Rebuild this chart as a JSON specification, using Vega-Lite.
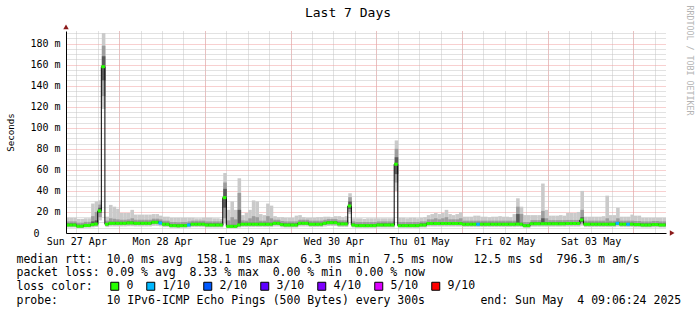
{
"$schema":"https://vega.github.io/schema/vega-lite/v6.json",
"width":600,"height":202,
"autosize":{"type":"none"},
"padding":{"left":66,"top":31,"right":31,"bottom":82},
"background":"white",
"title":{"text":"Last 7 Days","fontSize":13,"fontWeight":"normal","font":"DejaVu Sans Mono","color":"black","anchor":"middle","frame":"group","dx":-18,"dy":27,"offset":12},
"data":{"values":[
{"t":"2025-04-27T09:00Z","m":7.6,"lo":5.2,"hi":14.5,"a":6.2,"b":11,"c":6.9,"d":9,"l":"0"},
{"t":"2025-04-27T10:00Z","m":7.6,"lo":5.2,"hi":14.5,"a":6.2,"b":11,"c":6.9,"d":9,"l":"0"},
{"t":"2025-04-27T11:00Z","m":7.6,"lo":5.2,"hi":14.5,"a":6.2,"b":11,"c":6.9,"d":9,"l":"0"},
{"t":"2025-04-27T12:00Z","m":6.4,"lo":4.6,"hi":13.5,"a":5.2,"b":9.8,"c":5.7,"d":7.8,"l":"0"},
{"t":"2025-04-27T13:00Z","m":6.4,"lo":4.6,"hi":13.5,"a":5.2,"b":9.8,"c":5.7,"d":7.8,"l":"0"},
{"t":"2025-04-27T14:00Z","m":7.2,"lo":5.0,"hi":14,"a":5.8,"b":10.6,"c":6.5,"d":8.6,"l":"0"},
{"t":"2025-04-27T15:00Z","m":7.2,"lo":5.0,"hi":14,"a":5.8,"b":10.6,"c":6.5,"d":8.6,"l":"0"},
{"t":"2025-04-27T16:00Z","m":8.0,"lo":5.4,"hi":28,"a":6.5,"b":16,"c":7.3,"d":11,"l":"0"},
{"t":"2025-04-27T17:00Z","m":8.5,"lo":5.8,"hi":30,"a":7.0,"b":20,"c":7.8,"d":12,"l":"0"},
{"t":"2025-04-27T18:00Z","m":21,"lo":12,"hi":31,"a":15,"b":27,"c":19,"d":24,"l":"0"},
{"t":"2025-04-27T19:00Z","m":158.1,"lo":118,"hi":190,"a":130,"b":178,"c":145,"d":168,"l":"0"},
{"t":"2025-04-27T20:00Z","m":8.3,"lo":5.6,"hi":15.5,"a":6.8,"b":11.7,"c":7.6,"d":9.7,"l":"0"},
{"t":"2025-04-27T21:00Z","m":9.2,"lo":6.2,"hi":26.7,"a":7.6,"b":14,"c":8.4,"d":10.6,"l":"0"},
{"t":"2025-04-27T22:00Z","m":9.2,"lo":6.2,"hi":25,"a":7.6,"b":13.5,"c":8.4,"d":10.6,"l":"0"},
{"t":"2025-04-27T23:00Z","m":9.2,"lo":6.2,"hi":23,"a":7.6,"b":13,"c":8.4,"d":10.6,"l":"0"},
{"t":"2025-04-28T00:00Z","m":9.2,"lo":6.2,"hi":19,"a":7.6,"b":12.6,"c":8.4,"d":10.6,"l":"0"},
{"t":"2025-04-28T01:00Z","m":9.2,"lo":6.2,"hi":19,"a":7.6,"b":12.6,"c":8.4,"d":10.6,"l":"0"},
{"t":"2025-04-28T02:00Z","m":9.5,"lo":6.4,"hi":19,"a":7.9,"b":12.9,"c":8.7,"d":10.9,"l":"0"},
{"t":"2025-04-28T03:00Z","m":9.5,"lo":6.4,"hi":22,"a":7.9,"b":14,"c":8.7,"d":10.9,"l":"0"},
{"t":"2025-04-28T04:00Z","m":9.2,"lo":6.2,"hi":17.5,"a":7.6,"b":12.6,"c":8.4,"d":10.6,"l":"0"},
{"t":"2025-04-28T05:00Z","m":9.2,"lo":6.2,"hi":17.5,"a":7.6,"b":12.6,"c":8.4,"d":10.6,"l":"0"},
{"t":"2025-04-28T06:00Z","m":9.2,"lo":6.2,"hi":17.5,"a":7.6,"b":12.6,"c":8.4,"d":10.6,"l":"0"},
{"t":"2025-04-28T07:00Z","m":9.2,"lo":6.2,"hi":17.5,"a":7.6,"b":12.6,"c":8.4,"d":10.6,"l":"0"},
{"t":"2025-04-28T08:00Z","m":9.2,"lo":6.2,"hi":17.5,"a":7.6,"b":12.6,"c":8.4,"d":10.6,"l":"0"},
{"t":"2025-04-28T09:00Z","m":10.2,"lo":6.8,"hi":18,"a":8.4,"b":13.6,"c":9.4,"d":11.6,"l":"0"},
{"t":"2025-04-28T10:00Z","m":10.2,"lo":6.8,"hi":18,"a":8.4,"b":13.6,"c":9.4,"d":11.6,"l":"0"},
{"t":"2025-04-28T11:00Z","m":9.5,"lo":6.4,"hi":16.5,"a":7.9,"b":12.9,"c":8.7,"d":10.9,"l":"1/10"},
{"t":"2025-04-28T12:00Z","m":8.3,"lo":5.6,"hi":15.5,"a":6.8,"b":11.7,"c":7.6,"d":9.7,"l":"0"},
{"t":"2025-04-28T13:00Z","m":8.3,"lo":5.6,"hi":15.5,"a":6.8,"b":11.7,"c":7.6,"d":9.7,"l":"0"},
{"t":"2025-04-28T14:00Z","m":7.0,"lo":4.9,"hi":14.5,"a":5.7,"b":10.4,"c":6.3,"d":8.4,"l":"0"},
{"t":"2025-04-28T15:00Z","m":7.0,"lo":4.9,"hi":14.5,"a":5.7,"b":10.4,"c":6.3,"d":8.4,"l":"0"},
{"t":"2025-04-28T16:00Z","m":6.8,"lo":4.8,"hi":14.5,"a":5.5,"b":10.2,"c":6.1,"d":8.2,"l":"0"},
{"t":"2025-04-28T17:00Z","m":7.0,"lo":4.9,"hi":14.5,"a":5.7,"b":10.4,"c":6.3,"d":8.4,"l":"0"},
{"t":"2025-04-28T18:00Z","m":7.0,"lo":4.9,"hi":14.5,"a":5.7,"b":10.4,"c":6.3,"d":8.4,"l":"0"},
{"t":"2025-04-28T19:00Z","m":7.6,"lo":5.2,"hi":14.5,"a":6.2,"b":11,"c":6.9,"d":9,"l":"1/10"},
{"t":"2025-04-28T20:00Z","m":8.3,"lo":5.6,"hi":14.5,"a":6.8,"b":11.7,"c":7.6,"d":9.7,"l":"0"},
{"t":"2025-04-28T21:00Z","m":8.3,"lo":5.6,"hi":14,"a":6.8,"b":11.7,"c":7.6,"d":9.7,"l":"0"},
{"t":"2025-04-28T22:00Z","m":8.3,"lo":5.6,"hi":14,"a":6.8,"b":11.7,"c":7.6,"d":9.7,"l":"0"},
{"t":"2025-04-28T23:00Z","m":8.3,"lo":5.6,"hi":14.5,"a":6.8,"b":11.7,"c":7.6,"d":9.7,"l":"0"},
{"t":"2025-04-29T00:00Z","m":7.6,"lo":5.2,"hi":14.5,"a":6.2,"b":11,"c":6.9,"d":9,"l":"0"},
{"t":"2025-04-29T01:00Z","m":7.6,"lo":5.2,"hi":14.5,"a":6.2,"b":11,"c":6.9,"d":9,"l":"0"},
{"t":"2025-04-29T02:00Z","m":7.6,"lo":5.2,"hi":14,"a":6.2,"b":11,"c":6.9,"d":9,"l":"0"},
{"t":"2025-04-29T03:00Z","m":7.6,"lo":5.2,"hi":14,"a":6.2,"b":11,"c":6.9,"d":9,"l":"0"},
{"t":"2025-04-29T04:00Z","m":7.6,"lo":5.2,"hi":13.5,"a":6.2,"b":11,"c":6.9,"d":9,"l":"0"},
{"t":"2025-04-29T05:00Z","m":33.6,"lo":9,"hi":57,"a":14,"b":48,"c":24,"d":42,"l":"0"},
{"t":"2025-04-29T06:00Z","m":6.3,"lo":4.5,"hi":22,"a":5.1,"b":12,"c":5.6,"d":7.7,"l":"0"},
{"t":"2025-04-29T07:00Z","m":6.3,"lo":4.5,"hi":30,"a":5.1,"b":15,"c":5.6,"d":7.7,"l":"0"},
{"t":"2025-04-29T08:00Z","m":6.3,"lo":4.5,"hi":22,"a":5.1,"b":13,"c":5.6,"d":7.7,"l":"0"},
{"t":"2025-04-29T09:00Z","m":7.6,"lo":5.2,"hi":52,"a":6.2,"b":38,"c":6.9,"d":22,"l":"0"},
{"t":"2025-04-29T10:00Z","m":8.3,"lo":5.6,"hi":17,"a":6.8,"b":12,"c":7.6,"d":9.7,"l":"0"},
{"t":"2025-04-29T11:00Z","m":8.3,"lo":5.6,"hi":19,"a":6.8,"b":11.7,"c":7.6,"d":9.7,"l":"0"},
{"t":"2025-04-29T12:00Z","m":8.3,"lo":5.6,"hi":22,"a":6.8,"b":14,"c":7.6,"d":9.7,"l":"0"},
{"t":"2025-04-29T13:00Z","m":8.3,"lo":5.6,"hi":31,"a":6.8,"b":16,"c":7.6,"d":9.7,"l":"0"},
{"t":"2025-04-29T14:00Z","m":8.3,"lo":5.6,"hi":30,"a":6.8,"b":15,"c":7.6,"d":9.7,"l":"0"},
{"t":"2025-04-29T15:00Z","m":8.3,"lo":5.6,"hi":18,"a":6.8,"b":11.7,"c":7.6,"d":9.7,"l":"0"},
{"t":"2025-04-29T16:00Z","m":8.3,"lo":5.6,"hi":17,"a":6.8,"b":11.7,"c":7.6,"d":9.7,"l":"0"},
{"t":"2025-04-29T17:00Z","m":8.3,"lo":5.6,"hi":28,"a":6.8,"b":16,"c":7.6,"d":9.7,"l":"0"},
{"t":"2025-04-29T18:00Z","m":8.3,"lo":5.6,"hi":26,"a":6.8,"b":14,"c":7.6,"d":9.7,"l":"0"},
{"t":"2025-04-29T19:00Z","m":9.2,"lo":6.2,"hi":16,"a":7.6,"b":12.6,"c":8.4,"d":10.6,"l":"0"},
{"t":"2025-04-29T20:00Z","m":9.2,"lo":6.2,"hi":15,"a":7.6,"b":12.6,"c":8.4,"d":10.6,"l":"0"},
{"t":"2025-04-29T21:00Z","m":8.0,"lo":5.4,"hi":15,"a":6.5,"b":11.4,"c":7.3,"d":9.4,"l":"0"},
{"t":"2025-04-29T22:00Z","m":7.6,"lo":5.2,"hi":14.5,"a":6.2,"b":11,"c":6.9,"d":9,"l":"0"},
{"t":"2025-04-29T23:00Z","m":7.6,"lo":5.2,"hi":14.5,"a":6.2,"b":11,"c":6.9,"d":9,"l":"0"},
{"t":"2025-04-30T00:00Z","m":7.6,"lo":5.2,"hi":14.5,"a":6.2,"b":11,"c":6.9,"d":9,"l":"0"},
{"t":"2025-04-30T01:00Z","m":7.6,"lo":5.2,"hi":16.5,"a":6.2,"b":11,"c":6.9,"d":9,"l":"0"},
{"t":"2025-04-30T02:00Z","m":9.2,"lo":6.2,"hi":17,"a":7.6,"b":12.6,"c":8.4,"d":10.6,"l":"0"},
{"t":"2025-04-30T03:00Z","m":9.2,"lo":6.2,"hi":15,"a":7.6,"b":12.6,"c":8.4,"d":10.6,"l":"0"},
{"t":"2025-04-30T04:00Z","m":9.2,"lo":6.2,"hi":14.5,"a":7.6,"b":12.6,"c":8.4,"d":10.6,"l":"0"},
{"t":"2025-04-30T05:00Z","m":8.3,"lo":5.6,"hi":14.5,"a":6.8,"b":11.7,"c":7.6,"d":9.7,"l":"0"},
{"t":"2025-04-30T06:00Z","m":8.3,"lo":5.6,"hi":14.5,"a":6.8,"b":11.7,"c":7.6,"d":9.7,"l":"0"},
{"t":"2025-04-30T07:00Z","m":8.3,"lo":5.6,"hi":15,"a":6.8,"b":11.7,"c":7.6,"d":9.7,"l":"0"},
{"t":"2025-04-30T08:00Z","m":8.3,"lo":5.6,"hi":15,"a":6.8,"b":11.7,"c":7.6,"d":9.7,"l":"0"},
{"t":"2025-04-30T09:00Z","m":9.2,"lo":6.2,"hi":15.5,"a":7.6,"b":12.6,"c":8.4,"d":10.6,"l":"0"},
{"t":"2025-04-30T10:00Z","m":9.8,"lo":6.6,"hi":15.5,"a":8.1,"b":13.2,"c":9.0,"d":11.2,"l":"0"},
{"t":"2025-04-30T11:00Z","m":9.8,"lo":6.6,"hi":15,"a":8.1,"b":13.2,"c":9.0,"d":11.2,"l":"0"},
{"t":"2025-04-30T12:00Z","m":9.8,"lo":6.6,"hi":16,"a":8.1,"b":13.2,"c":9.0,"d":11.2,"l":"0"},
{"t":"2025-04-30T13:00Z","m":8.6,"lo":5.8,"hi":16,"a":7.1,"b":12,"c":7.9,"d":10,"l":"0"},
{"t":"2025-04-30T14:00Z","m":8.6,"lo":5.8,"hi":15,"a":7.1,"b":12,"c":7.9,"d":10,"l":"0"},
{"t":"2025-04-30T15:00Z","m":8.6,"lo":5.8,"hi":16,"a":7.1,"b":12,"c":7.9,"d":10,"l":"0"},
{"t":"2025-04-30T16:00Z","m":25.7,"lo":18,"hi":37.8,"a":20,"b":34,"c":23,"d":30,"l":"0"},
{"t":"2025-04-30T17:00Z","m":7.6,"lo":5.2,"hi":14,"a":6.2,"b":11,"c":6.9,"d":9,"l":"0"},
{"t":"2025-04-30T18:00Z","m":7.0,"lo":4.9,"hi":14,"a":5.7,"b":10.4,"c":6.3,"d":8.4,"l":"0"},
{"t":"2025-04-30T19:00Z","m":7.0,"lo":4.9,"hi":14,"a":5.7,"b":10.4,"c":6.3,"d":8.4,"l":"0"},
{"t":"2025-04-30T20:00Z","m":7.0,"lo":4.9,"hi":13.5,"a":5.7,"b":10.4,"c":6.3,"d":8.4,"l":"0"},
{"t":"2025-04-30T21:00Z","m":7.0,"lo":4.9,"hi":14,"a":5.7,"b":10.4,"c":6.3,"d":8.4,"l":"0"},
{"t":"2025-04-30T22:00Z","m":7.0,"lo":4.9,"hi":14,"a":5.7,"b":10.4,"c":6.3,"d":8.4,"l":"0"},
{"t":"2025-04-30T23:00Z","m":7.0,"lo":4.9,"hi":14,"a":5.7,"b":10.4,"c":6.3,"d":8.4,"l":"0"},
{"t":"2025-05-01T00:00Z","m":7.6,"lo":5.2,"hi":14,"a":6.2,"b":11,"c":6.9,"d":9,"l":"0"},
{"t":"2025-05-01T01:00Z","m":7.6,"lo":5.2,"hi":14,"a":6.2,"b":11,"c":6.9,"d":9,"l":"0"},
{"t":"2025-05-01T02:00Z","m":7.6,"lo":5.2,"hi":14,"a":6.2,"b":11,"c":6.9,"d":9,"l":"0"},
{"t":"2025-05-01T03:00Z","m":7.6,"lo":5.2,"hi":14,"a":6.2,"b":11,"c":6.9,"d":9,"l":"0"},
{"t":"2025-05-01T04:00Z","m":7.6,"lo":5.2,"hi":14,"a":6.2,"b":11,"c":6.9,"d":9,"l":"0"},
{"t":"2025-05-01T05:00Z","m":65.4,"lo":40,"hi":88,"a":48,"b":80,"c":56,"d":72,"l":"0"},
{"t":"2025-05-01T06:00Z","m":7.0,"lo":4.9,"hi":14.5,"a":5.7,"b":10.4,"c":6.3,"d":8.4,"l":"0"},
{"t":"2025-05-01T07:00Z","m":7.0,"lo":4.9,"hi":14.5,"a":5.7,"b":10.4,"c":6.3,"d":8.4,"l":"0"},
{"t":"2025-05-01T08:00Z","m":7.0,"lo":4.9,"hi":14,"a":5.7,"b":10.4,"c":6.3,"d":8.4,"l":"0"},
{"t":"2025-05-01T09:00Z","m":7.0,"lo":4.9,"hi":14.5,"a":5.7,"b":10.4,"c":6.3,"d":8.4,"l":"0"},
{"t":"2025-05-01T10:00Z","m":7.0,"lo":4.9,"hi":14.5,"a":5.7,"b":10.4,"c":6.3,"d":8.4,"l":"0"},
{"t":"2025-05-01T11:00Z","m":7.0,"lo":4.9,"hi":14,"a":5.7,"b":10.4,"c":6.3,"d":8.4,"l":"0"},
{"t":"2025-05-01T12:00Z","m":7.6,"lo":5.2,"hi":14.5,"a":6.2,"b":11,"c":6.9,"d":9,"l":"0"},
{"t":"2025-05-01T13:00Z","m":7.6,"lo":5.2,"hi":15,"a":6.2,"b":11,"c":6.9,"d":9,"l":"0"},
{"t":"2025-05-01T14:00Z","m":9.0,"lo":6.1,"hi":17,"a":7.4,"b":13,"c":8.2,"d":10.4,"l":"0"},
{"t":"2025-05-01T15:00Z","m":9.0,"lo":6.1,"hi":18,"a":7.4,"b":13,"c":8.2,"d":10.4,"l":"0"},
{"t":"2025-05-01T16:00Z","m":9.0,"lo":6.1,"hi":19,"a":7.4,"b":14,"c":8.2,"d":10.4,"l":"0"},
{"t":"2025-05-01T17:00Z","m":9.0,"lo":6.1,"hi":18,"a":7.4,"b":13,"c":8.2,"d":10.4,"l":"0"},
{"t":"2025-05-01T18:00Z","m":9.0,"lo":6.1,"hi":19,"a":7.4,"b":14,"c":8.2,"d":10.4,"l":"0"},
{"t":"2025-05-01T19:00Z","m":9.0,"lo":6.1,"hi":22,"a":7.4,"b":15,"c":8.2,"d":10.4,"l":"0"},
{"t":"2025-05-01T20:00Z","m":9.0,"lo":6.1,"hi":18,"a":7.4,"b":13,"c":8.2,"d":10.4,"l":"0"},
{"t":"2025-05-01T21:00Z","m":9.0,"lo":6.1,"hi":17,"a":7.4,"b":13,"c":8.2,"d":10.4,"l":"0"},
{"t":"2025-05-01T22:00Z","m":9.0,"lo":6.1,"hi":18,"a":7.4,"b":13,"c":8.2,"d":10.4,"l":"0"},
{"t":"2025-05-01T23:00Z","m":9.0,"lo":6.1,"hi":19.7,"a":7.4,"b":14,"c":8.2,"d":10.4,"l":"0"},
{"t":"2025-05-02T00:00Z","m":8.3,"lo":5.6,"hi":15.5,"a":6.8,"b":11.7,"c":7.6,"d":9.7,"l":"0"},
{"t":"2025-05-02T01:00Z","m":8.3,"lo":5.6,"hi":15.5,"a":6.8,"b":11.7,"c":7.6,"d":9.7,"l":"0"},
{"t":"2025-05-02T02:00Z","m":8.3,"lo":5.6,"hi":15.5,"a":6.8,"b":11.7,"c":7.6,"d":9.7,"l":"0"},
{"t":"2025-05-02T03:00Z","m":8.3,"lo":5.6,"hi":16.5,"a":6.8,"b":11.7,"c":7.6,"d":9.7,"l":"0"},
{"t":"2025-05-02T04:00Z","m":8.3,"lo":5.6,"hi":16.5,"a":6.8,"b":11.7,"c":7.6,"d":9.7,"l":"1/10"},
{"t":"2025-05-02T05:00Z","m":8.3,"lo":5.6,"hi":15.5,"a":6.8,"b":11.7,"c":7.6,"d":9.7,"l":"0"},
{"t":"2025-05-02T06:00Z","m":8.3,"lo":5.6,"hi":15.5,"a":6.8,"b":11.7,"c":7.6,"d":9.7,"l":"0"},
{"t":"2025-05-02T07:00Z","m":8.3,"lo":5.6,"hi":15,"a":6.8,"b":11.7,"c":7.6,"d":9.7,"l":"0"},
{"t":"2025-05-02T08:00Z","m":8.3,"lo":5.6,"hi":15.5,"a":6.8,"b":11.7,"c":7.6,"d":9.7,"l":"0"},
{"t":"2025-05-02T09:00Z","m":8.3,"lo":5.6,"hi":15.5,"a":6.8,"b":11.7,"c":7.6,"d":9.7,"l":"0"},
{"t":"2025-05-02T10:00Z","m":8.3,"lo":5.6,"hi":16,"a":6.8,"b":11.7,"c":7.6,"d":9.7,"l":"0"},
{"t":"2025-05-02T11:00Z","m":8.3,"lo":5.6,"hi":15.5,"a":6.8,"b":11.7,"c":7.6,"d":9.7,"l":"0"},
{"t":"2025-05-02T12:00Z","m":8.3,"lo":5.6,"hi":15.5,"a":6.8,"b":11.7,"c":7.6,"d":9.7,"l":"0"},
{"t":"2025-05-02T13:00Z","m":8.3,"lo":5.6,"hi":15,"a":6.8,"b":11.7,"c":7.6,"d":9.7,"l":"0"},
{"t":"2025-05-02T14:00Z","m":8.3,"lo":5.6,"hi":18,"a":6.8,"b":11.7,"c":7.6,"d":9.7,"l":"0"},
{"t":"2025-05-02T15:00Z","m":8.5,"lo":5.8,"hi":33,"a":7.0,"b":25,"c":7.8,"d":18,"l":"0"},
{"t":"2025-05-02T16:00Z","m":8.3,"lo":5.6,"hi":25,"a":6.8,"b":18,"c":7.6,"d":9.7,"l":"0"},
{"t":"2025-05-02T17:00Z","m":7.0,"lo":4.9,"hi":17,"a":5.7,"b":10.4,"c":6.3,"d":8.4,"l":"0"},
{"t":"2025-05-02T18:00Z","m":7.0,"lo":4.9,"hi":17,"a":5.7,"b":10.4,"c":6.3,"d":8.4,"l":"0"},
{"t":"2025-05-02T19:00Z","m":8.8,"lo":6.0,"hi":17,"a":7.3,"b":12.2,"c":8.0,"d":10.2,"l":"0"},
{"t":"2025-05-02T20:00Z","m":8.8,"lo":6.0,"hi":17,"a":7.3,"b":12.2,"c":8.0,"d":10.2,"l":"0"},
{"t":"2025-05-02T21:00Z","m":8.8,"lo":6.0,"hi":17,"a":7.3,"b":12.2,"c":8.0,"d":10.2,"l":"0"},
{"t":"2025-05-02T22:00Z","m":8.8,"lo":6.0,"hi":47,"a":7.3,"b":21,"c":8.0,"d":14,"l":"0"},
{"t":"2025-05-02T23:00Z","m":8.8,"lo":6.0,"hi":22,"a":7.3,"b":14,"c":8.0,"d":10.2,"l":"0"},
{"t":"2025-05-03T00:00Z","m":8.8,"lo":6.0,"hi":16.5,"a":7.3,"b":12.2,"c":8.0,"d":10.2,"l":"0"},
{"t":"2025-05-03T01:00Z","m":8.8,"lo":6.0,"hi":16.5,"a":7.3,"b":12.2,"c":8.0,"d":10.2,"l":"0"},
{"t":"2025-05-03T02:00Z","m":8.8,"lo":6.0,"hi":16.5,"a":7.3,"b":12.2,"c":8.0,"d":10.2,"l":"0"},
{"t":"2025-05-03T03:00Z","m":8.8,"lo":6.0,"hi":17,"a":7.3,"b":12.2,"c":8.0,"d":10.2,"l":"0"},
{"t":"2025-05-03T04:00Z","m":8.8,"lo":6.0,"hi":16.5,"a":7.3,"b":12.2,"c":8.0,"d":10.2,"l":"0"},
{"t":"2025-05-03T05:00Z","m":9.0,"lo":6.1,"hi":19,"a":7.4,"b":12.4,"c":8.2,"d":10.4,"l":"0"},
{"t":"2025-05-03T06:00Z","m":9.0,"lo":6.1,"hi":19,"a":7.4,"b":12.4,"c":8.2,"d":10.4,"l":"0"},
{"t":"2025-05-03T07:00Z","m":9.0,"lo":6.1,"hi":19,"a":7.4,"b":12.4,"c":8.2,"d":10.4,"l":"0"},
{"t":"2025-05-03T08:00Z","m":9.0,"lo":6.1,"hi":20,"a":7.4,"b":12.4,"c":8.2,"d":10.4,"l":"0"},
{"t":"2025-05-03T09:00Z","m":12.4,"lo":7,"hi":40,"a":9,"b":22,"c":10.5,"d":15,"l":"0"},
{"t":"2025-05-03T10:00Z","m":8.3,"lo":5.6,"hi":15.5,"a":6.8,"b":11.7,"c":7.6,"d":9.7,"l":"0"},
{"t":"2025-05-03T11:00Z","m":8.3,"lo":5.6,"hi":15.5,"a":6.8,"b":11.7,"c":7.6,"d":9.7,"l":"0"},
{"t":"2025-05-03T12:00Z","m":8.3,"lo":5.6,"hi":15.5,"a":6.8,"b":11.7,"c":7.6,"d":9.7,"l":"0"},
{"t":"2025-05-03T13:00Z","m":8.3,"lo":5.6,"hi":15.5,"a":6.8,"b":11.7,"c":7.6,"d":9.7,"l":"0"},
{"t":"2025-05-03T14:00Z","m":8.3,"lo":5.6,"hi":15.5,"a":6.8,"b":11.7,"c":7.6,"d":9.7,"l":"0"},
{"t":"2025-05-03T15:00Z","m":8.3,"lo":5.6,"hi":16,"a":6.8,"b":11.7,"c":7.6,"d":9.7,"l":"0"},
{"t":"2025-05-03T16:00Z","m":8.3,"lo":5.6,"hi":35.5,"a":6.8,"b":14,"c":7.6,"d":9.7,"l":"0"},
{"t":"2025-05-03T17:00Z","m":8.3,"lo":5.6,"hi":17,"a":6.8,"b":11.7,"c":7.6,"d":9.7,"l":"0"},
{"t":"2025-05-03T18:00Z","m":8.3,"lo":5.6,"hi":17,"a":6.8,"b":11.7,"c":7.6,"d":9.7,"l":"0"},
{"t":"2025-05-03T19:00Z","m":9.2,"lo":6.2,"hi":24,"a":7.6,"b":14,"c":8.4,"d":10.6,"l":"1/10"},
{"t":"2025-05-03T20:00Z","m":8.3,"lo":5.6,"hi":15.5,"a":6.8,"b":11.7,"c":7.6,"d":9.7,"l":"0"},
{"t":"2025-05-03T21:00Z","m":8.3,"lo":5.6,"hi":15.5,"a":6.8,"b":11.7,"c":7.6,"d":9.7,"l":"0"},
{"t":"2025-05-03T22:00Z","m":8.3,"lo":5.6,"hi":15.5,"a":6.8,"b":11.7,"c":7.6,"d":9.7,"l":"1/10"},
{"t":"2025-05-03T23:00Z","m":8.3,"lo":5.6,"hi":17.5,"a":6.8,"b":11.7,"c":7.6,"d":9.7,"l":"0"},
{"t":"2025-05-04T00:00Z","m":8.0,"lo":5.4,"hi":16.5,"a":6.5,"b":11.4,"c":7.3,"d":9.4,"l":"0"},
{"t":"2025-05-04T01:00Z","m":8.0,"lo":5.4,"hi":16.5,"a":6.5,"b":11.4,"c":7.3,"d":9.4,"l":"0"},
{"t":"2025-05-04T02:00Z","m":7.6,"lo":5.2,"hi":14.5,"a":6.2,"b":11,"c":6.9,"d":9,"l":"0"},
{"t":"2025-05-04T03:00Z","m":7.6,"lo":5.2,"hi":14.5,"a":6.2,"b":11,"c":6.9,"d":9,"l":"0"},
{"t":"2025-05-04T04:00Z","m":7.6,"lo":5.2,"hi":14.5,"a":6.2,"b":11,"c":6.9,"d":9,"l":"0"},
{"t":"2025-05-04T05:00Z","m":8.0,"lo":5.4,"hi":14.5,"a":6.5,"b":11.4,"c":7.3,"d":9.4,"l":"0"},
{"t":"2025-05-04T06:00Z","m":8.0,"lo":5.4,"hi":14.5,"a":6.5,"b":11.4,"c":7.3,"d":9.4,"l":"0"},
{"t":"2025-05-04T07:00Z","m":7.6,"lo":5.2,"hi":14.5,"a":6.2,"b":11,"c":6.9,"d":9,"l":"0"},
{"t":"2025-05-04T08:00Z","m":7.6,"lo":5.2,"hi":14.5,"a":6.2,"b":11,"c":6.9,"d":9,"l":"0"}
]},
"layer":[
{"mark":{"type":"bar","color":"#cacaca","clip":true,"binSpacing":0},
 "encoding":{
  "x":{"field":"t","type":"temporal","timeUnit":"utcyearmonthdatehours",
       "scale":{"type":"utc","domain":[{"year":2025,"month":4,"date":27,"hours":9,"minutes":6,"seconds":24,"utc":true},{"year":2025,"month":5,"date":4,"hours":9,"minutes":6,"seconds":24,"utc":true}]},
       "axis":{"orient":"bottom","grid":true,"gridColor":"#c4c4c4","gridDash":[1,1],"labels":false,"ticks":false,"domain":false,"title":null,
         "values":[{"year":2025,"month":4,"date":27,"hours":12,"utc":true},{"year":2025,"month":4,"date":27,"hours":18,"utc":true},
                   {"year":2025,"month":4,"date":28,"hours":0,"utc":true},{"year":2025,"month":4,"date":28,"hours":6,"utc":true},{"year":2025,"month":4,"date":28,"hours":12,"utc":true},{"year":2025,"month":4,"date":28,"hours":18,"utc":true},
                   {"year":2025,"month":4,"date":29,"hours":0,"utc":true},{"year":2025,"month":4,"date":29,"hours":6,"utc":true},{"year":2025,"month":4,"date":29,"hours":12,"utc":true},{"year":2025,"month":4,"date":29,"hours":18,"utc":true},
                   {"year":2025,"month":4,"date":30,"hours":0,"utc":true},{"year":2025,"month":4,"date":30,"hours":6,"utc":true},{"year":2025,"month":4,"date":30,"hours":12,"utc":true},{"year":2025,"month":4,"date":30,"hours":18,"utc":true},
                   {"year":2025,"month":5,"date":1,"hours":0,"utc":true},{"year":2025,"month":5,"date":1,"hours":6,"utc":true},{"year":2025,"month":5,"date":1,"hours":12,"utc":true},{"year":2025,"month":5,"date":1,"hours":18,"utc":true},
                   {"year":2025,"month":5,"date":2,"hours":0,"utc":true},{"year":2025,"month":5,"date":2,"hours":6,"utc":true},{"year":2025,"month":5,"date":2,"hours":12,"utc":true},{"year":2025,"month":5,"date":2,"hours":18,"utc":true},
                   {"year":2025,"month":5,"date":3,"hours":0,"utc":true},{"year":2025,"month":5,"date":3,"hours":6,"utc":true},{"year":2025,"month":5,"date":3,"hours":12,"utc":true},{"year":2025,"month":5,"date":3,"hours":18,"utc":true},
                   {"year":2025,"month":5,"date":4,"hours":0,"utc":true},{"year":2025,"month":5,"date":4,"hours":6,"utc":true}]}},
  "y":{"field":"lo","type":"quantitative","scale":{"domain":[0,192],"nice":false},
       "axis":{"orient":"left","grid":true,"gridColor":"#c4c4c4","gridDash":[1,1],"values":[5,10,15,25,30,35,45,50,55,65,70,75,85,90,95,105,110,115,125,130,135,145,150,155,165,170,175,185,190],"labels":false,"ticks":false,"domain":false,"title":null}},
  "y2":{"field":"hi"}}},
{"mark":{"type":"bar","color":"#9d9d9d","clip":true,"binSpacing":0},
 "encoding":{
  "x":{"field":"t","type":"temporal","timeUnit":"utcyearmonthdatehours",
       "axis":{"orient":"bottom","grid":true,"gridColor":"#f0a0a0","gridDash":[1,1],"labels":false,"ticks":false,"domain":false,"title":null,
         "values":[{"year":2025,"month":4,"date":28,"hours":0,"utc":true},{"year":2025,"month":4,"date":29,"hours":0,"utc":true},{"year":2025,"month":4,"date":30,"hours":0,"utc":true},{"year":2025,"month":5,"date":1,"hours":0,"utc":true},{"year":2025,"month":5,"date":2,"hours":0,"utc":true},{"year":2025,"month":5,"date":3,"hours":0,"utc":true},{"year":2025,"month":5,"date":4,"hours":0,"utc":true}]}},
  "y":{"field":"a","type":"quantitative",
       "axis":{"orient":"left","grid":true,"gridColor":"#f0a0a0","gridDash":[1,1],"values":[20,40,60,80,100,120,140,160,180],"labels":false,"ticks":false,"domain":false,"title":null}},
  "y2":{"field":"b"}}},
{"mark":{"type":"bar","color":"#5a5a5a","clip":true,"binSpacing":0},
 "encoding":{
  "x":{"field":"t","type":"temporal","timeUnit":"utcyearmonthdatehours",
       "axis":{"orient":"bottom","grid":false,"ticks":false,"domain":true,"domainColor":"black","zindex":1,
               "values":[{"year":2025,"month":4,"date":27,"hours":12,"utc":true},{"year":2025,"month":4,"date":28,"hours":12,"utc":true},{"year":2025,"month":4,"date":29,"hours":12,"utc":true},{"year":2025,"month":4,"date":30,"hours":12,"utc":true},{"year":2025,"month":5,"date":1,"hours":12,"utc":true},{"year":2025,"month":5,"date":2,"hours":12,"utc":true},{"year":2025,"month":5,"date":3,"hours":12,"utc":true}],
               "labelExpr":"utcFormat(datum.value, '%a %d %b')","labelFontSize":10,"labelPadding":3,"labelBaseline":"top","labelFlush":false,"labelOverlap":false,
               "title":["median rtt:\u00a0\u00a010.0 ms avg\u00a0\u00a0158.1 ms max\u00a0\u00a0\u00a06.3 ms min\u00a0\u00a07.5 ms now\u00a0\u00a0\u00a012.5 ms sd\u00a0\u00a0796.3 m am/s","packet loss: 0.09 % avg\u00a0\u00a08.33 % max\u00a0\u00a00.00 % min\u00a0\u00a00.00 % now","loss color:","probe:\u00a0\u00a0\u00a0\u00a0\u00a0\u00a0\u00a010 IPv6-ICMP Echo Pings (500 Bytes) every 300s\u00a0\u00a0\u00a0\u00a0\u00a0\u00a0\u00a0\u00a0end: Sun May\u00a0\u00a04 09:06:24 2025"],
               "titleAnchor":"start","titleAlign":"left","titleBaseline":"top","titleX":-50,"titleY":20,"titleFontSize":11.5,"titleLineHeight":13.7,"titleFontWeight":"normal"}},
  "y":{"field":"c","type":"quantitative",
       "axis":{"orient":"left","grid":false,"ticks":false,"domain":true,"domainColor":"black","zindex":1,"values":[0,20,40,60,80,100,120,140,160,180],
               "labelExpr":"datum.value == 0 ? '0' : datum.value + ' m'","labelFontSize":10,
               "labelPadding":{"condition":{"test":"datum.value == 0","value":27},"value":6},
               "title":"Seconds","titleFontSize":9.2,"titleFontWeight":"normal","titleX":-55.5,"titleY":101,"titleAngle":-90,"titleAlign":"center","titleBaseline":"middle"}},
  "y2":{"field":"d"}}},
{"mark":{"type":"line","color":"black","strokeWidth":1,"interpolate":"step-after","clip":true},
 "encoding":{
  "x":{"field":"t","type":"temporal","timeUnit":"utcyearmonthdatehours","axis":null},
  "y":{"field":"m","type":"quantitative",
       "axis":{"orient":"right","labels":false,"ticks":false,"domain":false,"grid":false,
               "title":"RRDTOOL / TOBI OETIKER","titleAngle":90,"titleFontSize":8.3,"titleColor":"#b4b4b4","titleFontWeight":"normal","titleX":22.5,"titleY":-26,"titleAlign":"left","titleBaseline":"middle"}}}},
{"mark":{"type":"tick","orient":"horizontal","thickness":3,"size":3.6,"opacity":1,"clip":true},
 "encoding":{
  "x":{"field":"t","type":"temporal","timeUnit":"utcyearmonthdatehours","bandPosition":0.5,"axis":null},
  "y":{"field":"m","type":"quantitative","axis":null},
  "color":{"field":"l","type":"nominal",
    "scale":{"domain":["0","1/10","2/10","3/10","4/10","5/10","9/10"],"range":["#26ff00","#00b8ff","#0059ff","#5e00ff","#7e00ff","#dd00ff","#ff0000"]},
    "legend":{"orient":"none","legendX":43,"legendY":249.5,"direction":"horizontal","title":null,"symbolType":"square","symbolSize":64,"symbolStrokeColor":"black","symbolStrokeWidth":1,"symbolOpacity":1,"labelFontSize":11.5,"labelOffset":6,"columnPadding":10,"gridAlign":"none","padding":0,"labelColor":"black","labelFont":"DejaVu Sans Mono","labelBaseline":"middle"}}}},
{"data":{"values":[{}]},
 "mark":{"type":"point","shape":"triangle-up","filled":true,"color":"#8b1a1a","size":30,"opacity":1},
 "encoding":{
  "x":{"datum":{"year":2025,"month":4,"date":27,"hours":9,"minutes":6,"seconds":24,"utc":true},"type":"temporal","axis":null},
  "y":{"datum":196,"type":"quantitative","axis":null}}},
{"data":{"values":[{}]},
 "mark":{"type":"point","shape":"triangle-right","filled":true,"color":"#8b1a1a","size":30,"opacity":1},
 "encoding":{
  "x":{"datum":{"year":2025,"month":5,"date":4,"hours":10,"minutes":50,"utc":true},"type":"temporal","axis":null},
  "y":{"datum":0,"type":"quantitative","axis":null}}}
],
"resolve":{"axis":{"x":"independent","y":"independent"}},
"config":{"font":"DejaVu Sans Mono","view":{"stroke":null},
  "legend":{"columnPadding":10,"gridAlign":"none"},
  "axis":{"labelFont":"DejaVu Sans Mono","titleFont":"DejaVu Sans Mono","labelColor":"black","titleColor":"black","gridOpacity":1,"gridWidth":1}}
}
